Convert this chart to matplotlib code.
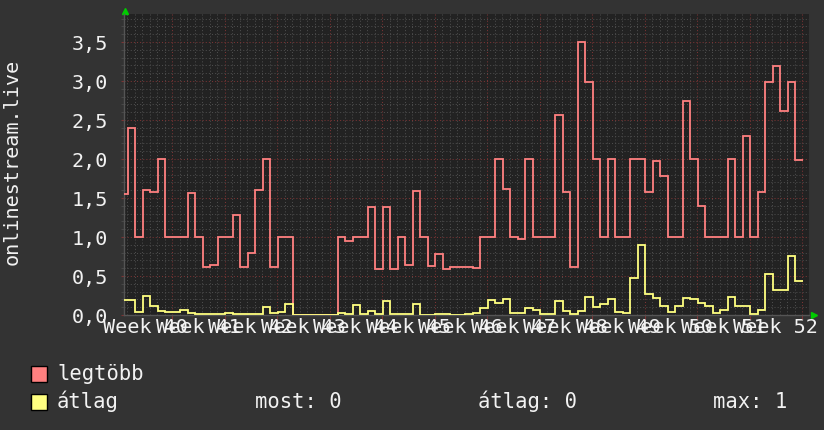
import numpy as np
import matplotlib.pyplot as plt
from matplotlib.patches import Rectangle
from matplotlib.ticker import FixedLocator, MultipleLocator

plt.rcParams['font.family'] = ['DejaVu Sans Mono', 'DejaVu Sans']

# daily values, first entry is the partial day at the left edge
legtobb = [1.55, 2.4, 1.0, 1.6, 1.58, 2.0, 1.0, 1.0, 1.0, 1.57,
           1.0, 0.61, 0.64, 1.0, 1.0, 1.28, 0.61, 0.79, 1.6, 2.0,
           0.62, 1.0, 1.0, 0, 0, 0, 0, 0, 0, 1.0,
           0.95, 1.0, 1.0, 1.39, 0.59, 1.39, 0.59, 1.0, 0.64, 1.59,
           1.0, 0.63, 0.78, 0.59, 0.61, 0.61, 0.62, 0.60, 1.0, 1.0,
           2.0, 1.62, 1.0, 0.98, 2.0, 1.0, 1.0, 1.0, 2.56, 1.58,
           0.62, 3.5, 2.99, 2.0, 1.0, 2.0, 1.0, 1.0, 2.0, 2.0,
           1.58, 1.97, 1.78, 1.0, 1.0, 2.75, 2.0, 1.4, 1.0, 1.0,
           1.0, 2.0, 1.0, 2.29, 1.0, 1.58, 2.99, 3.19, 2.61, 2.99,
           1.99]
atlag = [0.19, 0.19, 0.04, 0.24, 0.115, 0.055, 0.04, 0.04, 0.064, 0.03,
         0.013, 0.013, 0.013, 0.013, 0.03, 0.013, 0.01, 0.013, 0.013, 0.107,
         0.02, 0.034, 0.14, 0, 0, 0, 0, 0, 0, 0.03,
         0.01, 0.13, 0.01, 0.056, 0.013, 0.18, 0.013, 0.013, 0.013, 0.14,
         0.005, 0.005, 0.017, 0.017, 0.005, 0.005, 0.008, 0.02, 0.085, 0.19,
         0.16, 0.21, 0.03, 0.03, 0.085, 0.064, 0.017, 0.017, 0.18, 0.056,
         0.017, 0.056, 0.235, 0.107, 0.145, 0.2, 0.043, 0.03, 0.47, 0.90,
         0.27, 0.22, 0.115, 0.043, 0.11, 0.22, 0.2, 0.16, 0.115, 0.03,
         0.064, 0.235, 0.115, 0.115, 0.013, 0.064, 0.53, 0.32, 0.32, 0.756,
         0.44]
day_edges = np.arange(-1, len(legtobb))

week_numbers = list(range(40, 53))
week_labels = ['Week %d' % w for w in week_numbers]
ytick_vals = [0.0, 0.5, 1.0, 1.5, 2.0, 2.5, 3.0, 3.5]
ytick_labels = ['0,0', '0,5', '1,0', '1,5', '2,0', '2,5', '3,0', '3,5']
series_names = ['legtöbb', 'átlag']
summary = ['most: 0', 'átlag: 0', 'max: 1']

BG = '#333333'
PLOT_BG = '#222222'
PINK = '#ff8080'
YELLOW = '#ffff80'
TEXT = '#f2f2f2'
GRID_MAJOR = '#7a3434'
GRID_MINOR = '#4c4c4c'
W, H = 824, 430

fig = plt.figure(figsize=(W / 100, H / 100), dpi=100, facecolor=BG)
ax = fig.add_axes([124 / W, 115 / H, 685 / W, 301 / H])
ax.set_facecolor(PLOT_BG)

ax.stairs(legtobb, day_edges, baseline=None, color=PINK, lw=1.3, zorder=3)
ax.stairs(atlag, day_edges, baseline=None, color=YELLOW, lw=1.3, zorder=3)

ax.set_xlim(-0.533, 90.8)
ax.set_ylim(0, 3.859)

# week grid (midnight offset from the data days)
first_week = 5.867
week_grid = [first_week + 7 * k for k in range(len(week_numbers))]
day_grid = [first_week + k for k in range(-6, 85) if k % 7 != 0]
ax.xaxis.set_major_locator(FixedLocator(week_grid))
ax.xaxis.set_minor_locator(FixedLocator(day_grid))
ax.set_xticklabels([])
ax.set_yticks(ytick_vals, labels=ytick_labels)
ax.yaxis.set_minor_locator(MultipleLocator(0.1))

ax.grid(which='minor', color=GRID_MINOR, linestyle=(0, (1, 2)), lw=0.75)
ax.grid(which='major', color=GRID_MAJOR, linestyle=(0, (1, 2)), lw=0.75)
ax.set_axisbelow(True)

ax.tick_params(axis='x', which='major', length=3, color=GRID_MAJOR, direction='out')
ax.tick_params(axis='x', which='minor', length=0)
ax.tick_params(axis='y', which='major', length=2, color=GRID_MAJOR, labelcolor=TEXT,
               labelsize=14.5, pad=9.5)
ax.tick_params(axis='y', which='minor', length=2, color=GRID_MINOR)

for side in ['top', 'right']:
    ax.spines[side].set_visible(False)
for side in ['left', 'bottom']:
    ax.spines[side].set_color('#555555')
    ax.spines[side].set_linewidth(1)

# week labels sit in the middle of each week
sec = ax.secondary_xaxis('bottom')
sec.set_xticks([g - 3.5 for g in week_grid], labels=week_labels)
sec.tick_params(length=0, pad=2, labelsize=14.5, labelcolor=TEXT)
sec.spines['bottom'].set_visible(False)

# axis arrows
ax.plot(0.0015, 1 + 3 / 301, marker='^', ms=5, color='#00cc00', mec='#00cc00',
        transform=ax.transAxes, clip_on=False)
ax.plot((814 - 124) / 685, 0, marker='>', ms=5, color='#00cc00', mec='#00cc00',
        transform=ax.transAxes, clip_on=False)

fig.text(12 / W, 1 - 162 / H, 'onlinestream.live', rotation=90, ha='center', va='center',
         color=TEXT, fontsize=14.5)

# legend
swatch_tops = [366, 394]
baselines = [380, 408]
for name, color, top, base in zip(series_names, [PINK, YELLOW], swatch_tops, baselines):
    fig.add_artist(Rectangle((31 / W, 1 - (top + 16) / H), 16 / W, 16 / H,
                             transform=fig.transFigure, facecolor=color,
                             edgecolor='black', lw=1))
    fig.text(57 / W, 1 - base / H, name, va='baseline', ha='left', color=TEXT, fontsize=14.8)

for txt, x in zip(summary, [255, 478, 713]):
    fig.text(x / W, 1 - baselines[1] / H, txt, va='baseline', ha='left', color=TEXT,
             fontsize=14.8)

fig.savefig('out.png', dpi=100, facecolor=BG)
plt.close()
